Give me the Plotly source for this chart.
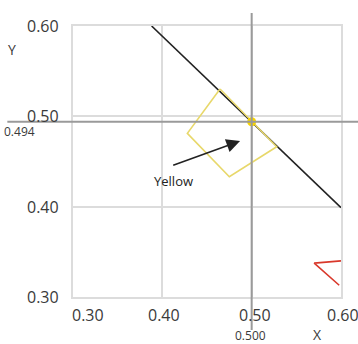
import plotly.graph_objects as go

# ---- data ----
tick_vals = [0.30, 0.40, 0.50, 0.60]
tick_text = ["0.30", "0.40", "0.50", "0.60"]

locus_x = [0.388, 0.600]
locus_y = [0.600, 0.399]

square_x = [0.4646, 0.5280, 0.4750, 0.4280, 0.4646]
square_y = [0.5302, 0.4663, 0.4331, 0.4812, 0.5302]

red_x = [0.600, 0.570, 0.598]
red_y = [0.340, 0.3375, 0.313]

point_x = [0.500]
point_y = [0.494]

arrow_head = (0.4870, 0.4726)
arrow_tail = (0.4105, 0.4453)
label_pos = (0.413, 0.4284)
label_text = "Yellow"

# ---- styles ----
FONT = "Open Sans"
TXT = "#3a3a3a"
GRID = "#dcdcdc"
CROSS = "#9a9a9a"

fig = go.Figure()
fig.add_trace(go.Scatter(x=locus_x, y=locus_y, mode="lines",
                         line=dict(color="#222222", width=1.6), hoverinfo="skip"))
fig.add_trace(go.Scatter(x=red_x, y=red_y, mode="lines",
                         line=dict(color="#d9382b", width=1.6), hoverinfo="skip"))
fig.add_trace(go.Scatter(x=square_x, y=square_y, mode="lines",
                         line=dict(color="#e8d86a", width=1.6), hoverinfo="skip"))

# crosshair lines through the point (extend beyond the plot)
fig.add_shape(type="line", xref="x", yref="paper", x0=point_x[0], x1=point_x[0],
              y0=-0.122, y1=1.048, line=dict(color=CROSS, width=2), layer="above")
fig.add_shape(type="line", xref="paper", yref="y", x0=-0.245, x1=1.07,
              y0=point_y[0], y1=point_y[0], line=dict(color=CROSS, width=2), layer="above")

fig.add_trace(go.Scatter(x=point_x, y=point_y, mode="markers",
                         marker=dict(color="#f7d400", size=9), hoverinfo="skip"))

ann = []
# y tick labels
for v, t in zip(tick_vals, tick_text):
    ann.append(dict(xref="x", yref="y", x=0.30, y=v, text=t, showarrow=False,
                    xanchor="right", yanchor="middle", xshift=-12,
                    font=dict(family=FONT, size=16, color=TXT)))
# x tick labels
x_shifts = [15, 2, 3, 2]
for v, t, s in zip(tick_vals, tick_text, x_shifts):
    ann.append(dict(xref="x", yref="y", x=v, y=0.30, text=t, showarrow=False,
                    xanchor="center", yanchor="middle", xshift=s, yshift=-18,
                    font=dict(family=FONT, size=16, color=TXT)))
# axis titles
ann.append(dict(xref="paper", yref="paper", x=-0.228, y=0.915, text="Y", showarrow=False,
                xanchor="center", yanchor="middle",
                font=dict(family=FONT, size=14, color=TXT)))
ann.append(dict(xref="paper", yref="paper", x=0.914, y=-0.138, text="X", showarrow=False,
                xanchor="center", yanchor="middle",
                font=dict(family=FONT, size=14, color=TXT)))
# value labels of the point
ann.append(dict(xref="paper", yref="y", x=-0.198, y=point_y[0], yshift=-10,
                xanchor="center", yanchor="middle",
                text=f"{point_y[0]:.3f}", showarrow=False,
                font=dict(family=FONT, size=12, color=TXT)))
ann.append(dict(xref="x", yref="paper", x=point_x[0], y=-0.142, xshift=-1,
                xanchor="center", yanchor="middle",
                text=f"{point_x[0]:.3f}", showarrow=False,
                font=dict(family=FONT, size=12, color=TXT)))
# arrow + label
ann.append(dict(xref="x", yref="y", axref="x", ayref="y",
                x=arrow_head[0], y=arrow_head[1], ax=arrow_tail[0], ay=arrow_tail[1],
                text="", showarrow=True, arrowhead=2, arrowsize=1.7, arrowwidth=1.6,
                arrowcolor="#222222", standoff=0))
ann.append(dict(xref="x", yref="y", x=label_pos[0], y=label_pos[1], text=label_text,
                xanchor="center", yanchor="middle",
                showarrow=False, font=dict(family=FONT, size=13, color="#222222")))

axis_common = dict(range=[0.30, 0.60], tickvals=tick_vals, showticklabels=False,
                   showgrid=True, gridcolor=GRID, gridwidth=1.5,
                   showline=True, linecolor=GRID, linewidth=1.5, mirror=True,
                   zeroline=False, ticks="")

fig.update_layout(
    width=358, height=344,
    margin=dict(l=73, r=17, t=26, b=47),
    paper_bgcolor="white", plot_bgcolor="white",
    showlegend=False,
    xaxis=axis_common,
    yaxis=axis_common,
    annotations=ann,
)

fig.write_html("out.html")
